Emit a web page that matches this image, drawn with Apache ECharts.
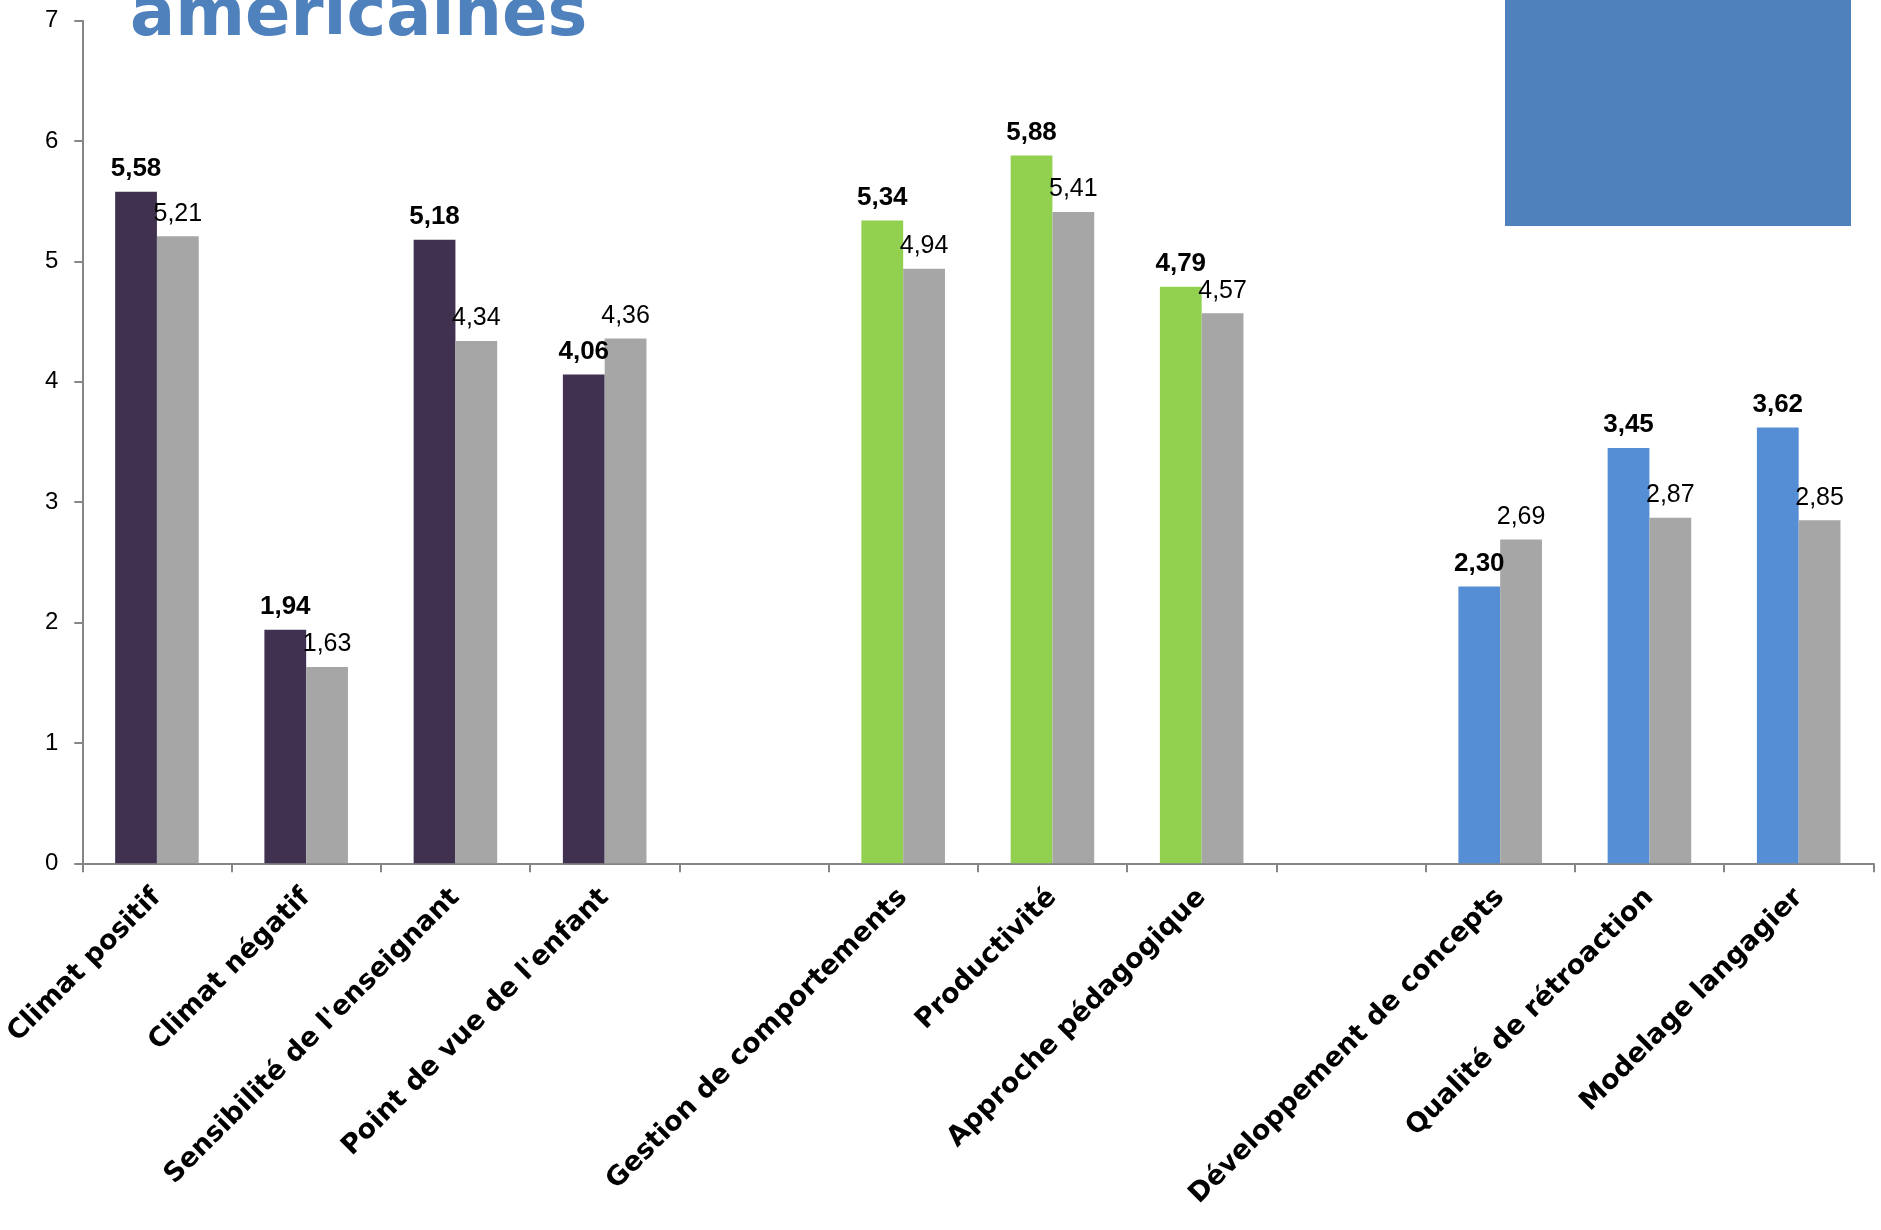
<!DOCTYPE html>
<html>
<head>
<meta charset="utf-8">
<script src="https://cdn.jsdelivr.net/npm/echarts@6/dist/echarts.min.js"></script>
<style>
html,body{margin:0;padding:0;background:#fff;}
#chart{width:1881px;height:1230px;}
</style>
</head>
<body>
<div id="chart"></div>
<script>
// ---- data ----
var categories = [
  "Climat positif", "Climat négatif", "Sensibilité de l'enseignant", "Point de vue de l'enfant",
  "",
  "Gestion de comportements", "Productivité", "Approche pédagogique",
  "",
  "Développement de concepts", "Qualité de rétroaction", "Modelage langagier"
];
var groups = ["soutien","soutien","soutien","soutien", null, "org","org","org", null, "appr","appr","appr"];
var mainValues = [5.58, 1.94, 5.18, 4.06, null, 5.34, 5.88, 4.79, null, 2.30, 3.45, 3.62];
var refValues  = [5.21, 1.63, 4.34, 4.36, null, 4.94, 5.41, 4.57, null, 2.69, 2.87, 2.85];
var yTicks = [0, 1, 2, 3, 4, 5, 6, 7];
var titleText = "américaines";

// ---- styles ----
var groupColors = { soutien: "#403151", org: "#92D050", appr: "#558ED5" };
var grayColor = "#A6A6A6";
var numFont = "'Liberation Sans', Arial, sans-serif";
var catFont = "'DejaVu Sans', sans-serif";

function fmt(p) { return Number(p.value).toFixed(2).replace('.', ','); }

var mainData = mainValues.map(function (v, i) {
  if (v == null) return '-';
  return { value: v, itemStyle: { color: groupColors[groups[i]] } };
});
var refData = refValues.map(function (v) { return v == null ? '-' : v; });

var chart = echarts.init(document.getElementById('chart'), null, { renderer: 'canvas' });
chart.setOption({
  animation: false,
  backgroundColor: '#ffffff',
  grid: { left: 82.3, right: 7.7, top: 20.7, bottom: 366.7, containLabel: false, outerBoundsMode: 'none' },
  xAxis: {
    type: 'category',
    data: categories,
    boundaryGap: true,
    axisLine: { show: true, lineStyle: { color: '#868686', width: 2 } },
    axisTick: { show: true, interval: 0, length: 9, lineStyle: { color: '#868686', width: 2 } },
    axisLabel: {
      interval: 0, rotate: 45, margin: 30,
      fontFamily: catFont, fontWeight: 'bold', fontSize: 27, color: '#000'
    },
    splitLine: { show: false }
  },
  yAxis: {
    type: 'value', min: yTicks[0], max: yTicks[yTicks.length - 1], interval: 1,
    axisLine: { show: true, lineStyle: { color: '#868686', width: 2 } },
    axisTick: { show: true, length: 8, lineStyle: { color: '#868686', width: 2 } },
    axisLabel: { margin: 24, fontFamily: numFont, fontSize: 24, color: '#000' },
    splitLine: { show: false }
  },
  series: [
    {
      type: 'bar', data: mainData, barGap: '0%', barCategoryGap: '44%',
      label: { show: true, position: 'top', distance: 10, formatter: fmt,
        fontFamily: numFont, fontWeight: 'bold', fontSize: 26, color: '#000' }
    },
    {
      type: 'bar', data: refData, barGap: '0%', barCategoryGap: '44%',
      itemStyle: { color: grayColor },
      label: { show: true, position: 'top', distance: 10, formatter: fmt,
        fontFamily: numFont, fontSize: 25, color: '#000' }
    }
  ],
  graphic: [
    { type: 'rect', shape: { x: 1505, y: -10, width: 346, height: 236 }, style: { fill: '#4F81BD' }, silent: true },
    { type: 'text', x: 130, y: 18, style: { text: titleText, fill: '#4F81BD',
      font: "bold 67px 'DejaVu Sans', sans-serif", textVerticalAlign: 'middle', verticalAlign: 'middle' }, silent: true }
  ]
});
</script>
</body>
</html>
